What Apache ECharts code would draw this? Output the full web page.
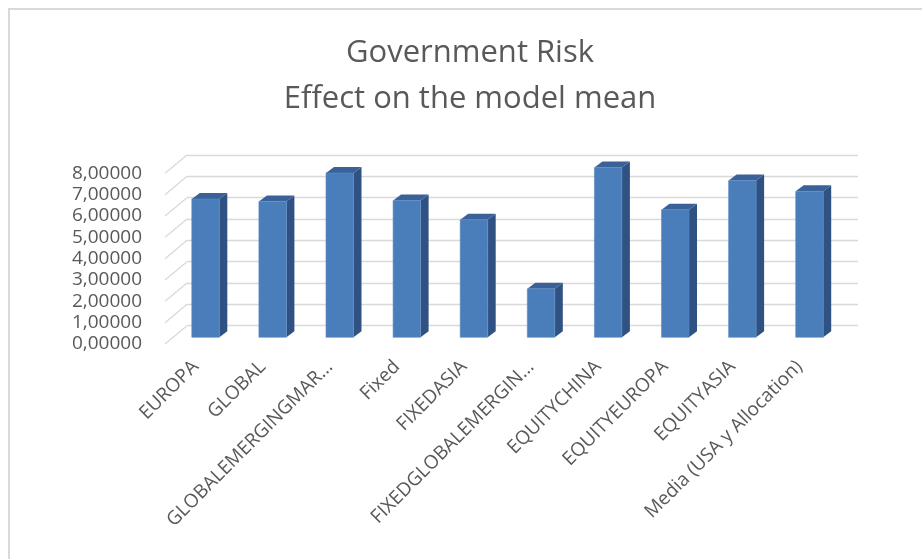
<!DOCTYPE html>
<html>
<head>
<meta charset="utf-8">
<script src="https://cdn.jsdelivr.net/npm/echarts@6/dist/echarts.min.js"></script>
<style>
html,body{margin:0;padding:0;background:#fff;}
#chart{width:922px;height:559px;}
</style>
</head>
<body>
<div id="chart"></div>
<script>
// ---- data ----
var categories = ['EUROPA', 'GLOBAL', 'GLOBALEMERGINGMAR...', 'Fixed', 'FIXEDASIA',
  'FIXEDGLOBALEMERGIN...', 'EQUITYCHINA', 'EQUITYEUROPA', 'EQUITYASIA', 'Media (USA y Allocation)'];
var values = [6.48, 6.37, 7.70, 6.41, 5.51, 2.27, 7.96, 5.98, 7.35, 6.84];
var yTicks = [0, 1, 2, 3, 4, 5, 6, 7, 8];
var titleLines = ['Government Risk', 'Effect on the model mean'];

// ---- styling constants (3D look) ----
var DX = -15, DY = 11.6;   // shift of bar front face relative to back wall
var SX = 8, SY = -6;       // bar depth
var WALL_DX = -22, WALL_DY = 18.3; // wall depth
var FONT = '"Open Sans", "Liberation Sans", sans-serif';
var TXT = '#595959';
var GRID_C = '#d9d9d9';

var chart = echarts.init(document.getElementById('chart'), null, {renderer: 'canvas'});

function barItem(params, api) {
  var i = api.value(0), v = api.value(1);
  var top = api.coord([i, v]);
  var bot = api.coord([i, 0]);
  var w = api.size([1, 0])[0] * 0.41;
  var xl = top[0] + DX - w / 2, xr = xl + w;
  var ft = top[1] + DY, fb = bot[1] + DY;
  return {
    type: 'group',
    children: [
      {type: 'polygon', shape: {points: [[xr, ft], [xr + SX, ft + SY], [xr + SX, fb + SY], [xr, fb]]},
        style: {fill: '#2f5282'}},
      {type: 'polygon', shape: {points: [[xl, ft], [xl + SX, ft + SY], [xr + SX, ft + SY], [xr, ft]]},
        style: {fill: '#3a6299'}},
      {type: 'rect', shape: {x: xl, y: ft, width: w, height: fb - ft},
        style: {fill: '#4a7ebb', stroke: '#5a8bc6', lineWidth: 0.6}}
    ]
  };
}

function wallItem(params, api) {
  var k = api.value(1);
  var p = api.coord([0, k]);
  var half = api.size([1, 0])[0] / 2;
  var x = p[0] - half;
  return {
    type: 'line',
    shape: {x1: x + WALL_DX, y1: p[1] + WALL_DY, x2: x, y2: p[1]},
    style: {stroke: GRID_C, lineWidth: 1.3}
  };
}

var option = {
  backgroundColor: '#ffffff',
  animation: false,
  title: {
    text: titleLines.join('\n'),
    left: 465,
    textAlign: 'center',
    top: 25,
    textStyle: {fontFamily: FONT, fontSize: 31, fontWeight: 'normal', color: TXT, lineHeight: 46}
  },
  graphic: [{
    type: 'rect', shape: {x: 9, y: 9, width: 1000, height: 700},
    style: {fill: 'none', stroke: '#d9d9d9', lineWidth: 2}, silent: true, z: -10
  }],
  grid: [
    {left: 187, top: 155, width: 671, height: 170.7},  // back wall
    {left: 165, top: 173.3, width: 671, height: 170.5}, // front plane (y labels)
    {left: 162, top: 173.3, width: 671, height: 170.5}  // category labels
  ],
  xAxis: [
    {gridIndex: 0, type: 'category', data: categories, show: false},
    {gridIndex: 1, type: 'category', data: categories, show: false},
    {gridIndex: 2, type: 'category', data: categories,
      axisLine: {show: false}, axisTick: {show: false},
      axisLabel: {interval: 0, rotate: 45, margin: 20, color: TXT, fontFamily: FONT, fontSize: 19}}
  ],
  yAxis: [
    {gridIndex: 0, type: 'value', min: yTicks[0], max: yTicks[yTicks.length - 1], interval: 1,
      axisLabel: {show: false}, axisLine: {show: false}, axisTick: {show: false},
      splitLine: {show: true, lineStyle: {color: GRID_C, width: 1.3}}},
    {gridIndex: 1, type: 'value', min: yTicks[0], max: yTicks[yTicks.length - 1], interval: 1,
      axisLine: {show: false}, axisTick: {show: false}, splitLine: {show: false},
      axisLabel: {margin: 23, color: TXT, fontFamily: FONT, fontSize: 19,
        formatter: function (v) { return v.toFixed(5).replace('.', ','); }}},
    {gridIndex: 2, type: 'value', min: 0, max: 8, show: false}
  ],
  series: [
    {type: 'custom', xAxisIndex: 0, yAxisIndex: 0, renderItem: wallItem,
      data: yTicks.map(function (k) { return [0, k]; }), z: 1, silent: true},
    {type: 'custom', xAxisIndex: 0, yAxisIndex: 0, renderItem: barItem,
      data: values.map(function (v, i) { return [i, v]; }), z: 5}
  ]
};
chart.setOption(option);
</script>
</body>
</html>
